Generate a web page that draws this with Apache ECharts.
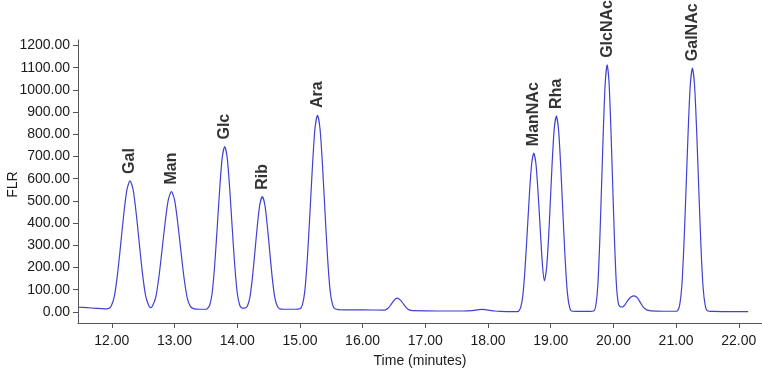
<!DOCTYPE html>
<html>
<head>
<meta charset="utf-8">
<script src="https://cdn.jsdelivr.net/npm/echarts@6/dist/echarts.min.js"></script>
<style>
html,body{margin:0;padding:0;background:#fff;}
#chart{width:762px;height:368px;}
</style>
</head>
<body>
<div id="chart"></div>
<script>
// Retention time (minutes) of the trace samples
const timeMin = [
  11.46, 11.60, 11.75, 11.88, 11.94,
  11.99, 12.04, 12.09, 12.14, 12.19, 12.24, 12.29, 12.34, 12.39, 12.44, 12.49, 12.54, 12.59,
  12.62,
  12.65, 12.70, 12.75, 12.80, 12.85, 12.90, 12.95, 13.00, 13.05, 13.10, 13.15, 13.20, 13.25, 13.30,
  13.40, 13.50,
  13.52, 13.56, 13.60, 13.64, 13.68, 13.72, 13.76, 13.80, 13.84, 13.88, 13.92, 13.96, 14.00, 14.04, 14.08,
  14.12, 14.16, 14.20, 14.24, 14.28, 14.32, 14.36, 14.40, 14.44, 14.48, 14.52, 14.56, 14.60, 14.64, 14.68,
  14.80, 14.92,
  15.00, 15.04, 15.08, 15.12, 15.16, 15.20, 15.24, 15.28, 15.32, 15.36, 15.40, 15.44, 15.48, 15.52, 15.56,
  15.70, 16.00, 16.35,
  16.40, 16.45, 16.50, 16.55, 16.60, 16.65, 16.70, 16.75, 16.80,
  17.20, 17.60, 17.75, 17.85, 17.92, 18.00, 18.10, 18.20, 18.40, 18.45,
  18.485, 18.52, 18.555, 18.59, 18.625, 18.66, 18.695, 18.73, 18.765, 18.80, 18.835, 18.87, 18.90, 18.935, 18.965, 18.985,
  19.02, 19.055, 19.09, 19.125, 19.16, 19.195, 19.23, 19.265, 19.30, 19.335,
  19.45, 19.60,
  19.69, 19.72, 19.75, 19.78, 19.81, 19.84, 19.87, 19.90, 19.93, 19.96, 19.99, 20.02, 20.05, 20.08, 20.11, 20.14,
  20.18, 20.23, 20.28, 20.33, 20.38, 20.43, 20.48, 20.53, 20.60,
  20.80, 20.98,
  21.022, 21.056, 21.09, 21.124, 21.158, 21.192, 21.226, 21.26, 21.294, 21.328, 21.362, 21.396, 21.43, 21.464, 21.498,
  21.60, 21.90, 22.15
];
// FLR signal at those times
const flrSignal = [
  21, 19, 16, 14, 15,
  27, 71, 169, 302, 440, 550, 590, 550, 440, 302, 169, 71, 28,
  19,
  28, 66, 156, 278, 404, 505, 542, 505, 404, 278, 156, 66, 26, 15,
  12, 12,
  14, 30, 85, 210, 378, 554, 694, 745, 694, 554, 378, 210, 85, 30, 17,
  17, 25, 63, 149, 266, 387, 483, 519, 483, 387, 266, 149, 63, 25, 14,
  12, 12,
  14, 33, 99, 248, 449, 659, 826, 887, 826, 659, 449, 248, 99, 33, 14,
  9, 9, 8,
  15, 32, 52, 62, 54, 36, 18, 8, 6,
  4, 4, 6, 10, 11, 8, 4, 2, 1, 1,
  3, 19, 72, 194, 358, 529, 665, 715, 665, 530, 362, 205, 140, 201, 331, 443,
  654, 821, 883, 820, 653, 441, 238, 88, 22, 4,
  2, 2,
  5, 30, 113, 302, 558, 824, 1035, 1113, 1035, 824, 558, 302, 113, 36, 23, 22,
  31, 52, 67, 72, 64, 42, 20, 9, 5,
  3, 3,
  5, 29, 112, 298, 550, 813, 1021, 1098, 1021, 813, 550, 298, 112, 29, 5,
  2, 1, 1
];
// Peak annotations
const peakNames = ['Gal', 'Man', 'Glc', 'Rib', 'Ara', 'ManNAc', 'Rha', 'GlcNAc', 'GalNAc'];
const peakTimes = [12.29, 12.95, 13.80, 14.40, 15.28, 18.73, 19.09, 19.90, 21.26];
const peakHeights = [590, 542, 745, 519, 887, 715, 883, 1113, 1098];
// Axis tick labels
const xTicks = [12, 13, 14, 15, 16, 17, 18, 19, 20, 21, 22];
const yTicks = [0, 100, 200, 300, 400, 500, 600, 700, 800, 900, 1000, 1100, 1200];

const FONT = "'Liberation Sans', Arial, Helvetica, sans-serif";
const chart = echarts.init(document.getElementById('chart'), null, {renderer: 'canvas'});

const traceData = timeMin.map((t, i) => [t, flrSignal[i]]);
const peakData = peakTimes.map((t, i) => [t, peakHeights[i]]);

chart.setOption({
  animation: false,
  backgroundColor: '#ffffff',
  grid: {left: 78, right: 0, top: 40, bottom: 45, containLabel: false, outerBoundsMode: 'none'},
  xAxis: {
    type: 'value',
    min: 11.46,
    max: 22.37,
    name: 'Time (minutes)',
    nameLocation: 'middle',
    nameGap: 31,
    nameMoveOverlap: false,
    nameTextStyle: {fontFamily: FONT, fontSize: 14, color: '#1a1a1a'},
    axisLine: {show: true, onZero: false, lineStyle: {color: '#555', width: 1}},
    axisTick: {show: true, inside: false, length: 5, customValues: xTicks, lineStyle: {color: '#555'}},
    axisLabel: {
      customValues: xTicks,
      formatter: v => v.toFixed(2),
      fontFamily: FONT, fontSize: 14, color: '#1a1a1a', margin: 11
    },
    splitLine: {show: false}
  },
  yAxis: {
    type: 'value',
    min: -50,
    max: 1225,
    name: 'FLR',
    nameLocation: 'middle',
    nameGap: 58,
    nameRotate: 90,
    nameMoveOverlap: false,
    nameTextStyle: {fontFamily: FONT, fontSize: 14, color: '#1a1a1a', padding: [0, 6, 0, 0]},
    axisLine: {show: true, onZero: false, lineStyle: {color: '#555', width: 1}},
    axisTick: {show: true, inside: false, length: 5, customValues: yTicks, lineStyle: {color: '#555'}},
    axisLabel: {
      customValues: yTicks,
      formatter: v => v.toFixed(2),
      fontFamily: FONT, fontSize: 14, color: '#1a1a1a', margin: 8
    },
    splitLine: {show: false}
  },
  series: [
    {
      type: 'line',
      data: traceData,
      symbol: 'none',
      smooth: 0.25,
      lineStyle: {color: '#4040d4', width: 1.2},
      silent: true,
      z: 2
    },
    {
      type: 'scatter',
      data: peakData,
      symbolSize: 0,
      silent: true,
      z: 3,
      label: {
        show: true,
        formatter: p => peakNames[p.dataIndex],
        position: 'top',
        distance: 7,
        rotate: 90,
        align: 'left',
        verticalAlign: 'middle',
        fontFamily: FONT,
        fontSize: 16,
        fontWeight: 'bold',
        color: '#000'
      }
    }
  ]
});
</script>
</body>
</html>
